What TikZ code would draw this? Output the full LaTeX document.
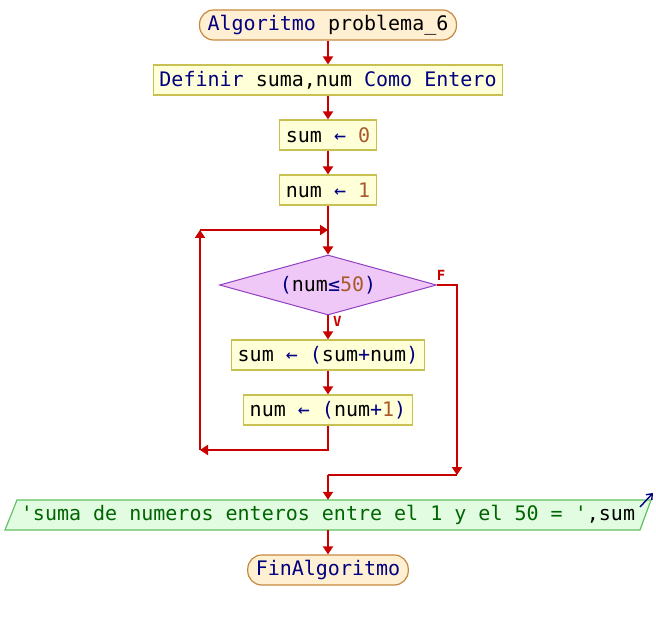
\documentclass[tikz,border=0pt]{standalone}
\usepackage{fontspec}
\setmonofont{DejaVu Sans Mono}
\usepackage{tikz}
\usetikzlibrary{arrows.meta,shapes.geometric}
\definecolor{kwblue}{HTML}{000080}
\definecolor{numbrown}{HTML}{A85A2A}
\definecolor{strgreen}{HTML}{006400}
\definecolor{flowred}{HTML}{C80000}
\definecolor{termfill}{HTML}{FFF0D4}
\definecolor{termdraw}{HTML}{C8883C}
\definecolor{procfill}{HTML}{FFFFD8}
\definecolor{procdraw}{HTML}{C8C050}
\definecolor{condfill}{HTML}{F0C8F8}
\definecolor{conddraw}{HTML}{9040C0}
\definecolor{outfill}{HTML}{E2FCE2}
\definecolor{outdraw}{HTML}{60C060}
\newcommand{\kw}[1]{\textcolor{kwblue}{#1}}
\newcommand{\nm}[1]{\textcolor{numbrown}{#1}}
\newcommand{\cad}[1]{\textcolor{strgreen}{#1}}
\tikzstyle{base}=[font=\ttfamily\fontsize{20}{24}\selectfont, minimum height=30pt, inner xsep=6pt, inner ysep=0pt]
\tikzstyle{term}=[base, draw=termdraw, fill=termfill, line width=1.2pt, rounded corners=14pt, inner xsep=8pt]
\tikzstyle{proc}=[base, draw=procdraw, fill=procfill, line width=1.2pt]
\tikzstyle{cond}=[base, diamond, aspect=3.6, draw=conddraw, fill=condfill, line width=1pt, minimum width=217pt, minimum height=60pt, inner sep=0pt]
\tikzstyle{outbox}=[draw=outdraw, fill=outfill, line width=1.2pt]
\tikzstyle{arrow}=[draw=flowred, line width=2pt, -{Triangle[length=8pt,width=10pt]}]
\tikzstyle{line}=[draw=flowred, line width=2pt]
\tikzstyle{rama}=[text=flowred, font=\ttfamily\bfseries\fontsize{14}{14}\selectfont, inner sep=1pt]

\begin{document}
\begin{tikzpicture}[x=1pt, y=-1pt]
	\useasboundingbox (0,0) rectangle (656,620);
	\begin{scope}
		\node (inicio) at (328,25) [term] {\kw{Algoritmo} problema\_6};
		\node (definir) at (328,80) [proc] {\kw{Definir} suma,num \kw{Como Entero}};
		\node (asig1) at (328,135) [proc] {sum \kw{←} \nm{0}};
		\node (asig2) at (328,190) [proc] {num \kw{←} \nm{1}};
		\node (cond) at (328,285) [cond] {\kw{(}num\kw{≤}\nm{50}\kw{)}};
		\node (asig3) at (328,355) [proc] {sum \kw{←} \kw{(}sum\kw{+}num\kw{)}};
		\node (asig4) at (328,410) [proc] {num \kw{←} \kw{(}num\kw{+}\nm{1}\kw{)}};
		\draw[outbox] (17,500) -- (651,500) -- (640,530) -- (5,530) -- cycle;
		\node (salida) at (328,515) [base, inner xsep=0pt] {\cad{'suma de numeros enteros entre el 1 y el 50 = '},sum};
		\draw[draw=kwblue, line width=1.4pt, -{Straight Barb[length=5pt,width=8pt]}] (640,507) -- (653,493);
		\node (fin) at (328,570) [term] {\kw{FinAlgoritmo}};
		\coordinate (lazo) at (328,230);
		\coordinate (retizq) at (200,450);
		\coordinate (retarr) at (200,230);
		\coordinate (falso) at (457,475);
		\coordinate (union) at (328,475);
	\end{scope}
	\begin{scope}
		\draw[arrow] (inicio) -- (definir);
		\draw[arrow] (definir) -- (asig1);
		\draw[arrow] (asig1) -- (asig2);
		\draw[arrow] (asig2) -- (cond);
		\draw[arrow] (cond) -- node[rama, pos=0.25, right=3pt]{V} (asig3);
		\draw[arrow] (asig3) -- (asig4);
		\draw[arrow] (asig4.south) |- (retizq);
		\draw[arrow] (retizq) -- (retarr);
		\draw[arrow] (retarr) -- (lazo);
		\draw[arrow] (cond.east) -| node[rama, pos=0.1, above=2pt]{F} (falso);
		\draw[line] (falso) -- (union);
		\draw[arrow] (union) -- (salida.north);
		\draw[arrow] (salida.south) -- (fin);
	\end{scope}
\end{tikzpicture}
\end{document}
